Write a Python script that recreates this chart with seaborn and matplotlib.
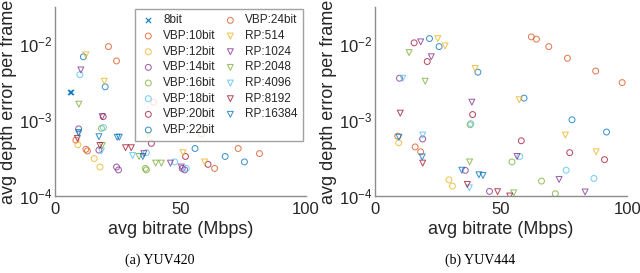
import pandas as pd
import numpy as np
import matplotlib
matplotlib.use("Agg")
import matplotlib.pyplot as plt
import seaborn as sns
from matplotlib.ticker import LogLocator, NullFormatter, FixedLocator

# series in legend order
series = ['8bit', 'VBP:10bit', 'VBP:12bit', 'VBP:14bit', 'VBP:16bit', 'VBP:18bit',
          'VBP:20bit', 'VBP:22bit', 'VBP:24bit', 'RP:514', 'RP:1024', 'RP:2048',
          'RP:4096', 'RP:8192', 'RP:16384']

# MATLAB default color order, cycling
matlab_colors = ['#0072BD', '#D95319', '#EDB120', '#7E2F8E', '#77AC30', '#4DBEEE', '#A2142F']

# YUV420 panel: bitrate (Mbps) and avg depth error per frame
yuv420_x = {
    '8bit': [5.8, 6.2],
    'VBP:10bit': [8.3, 12.3, 12.9, 63.6],
    'VBP:12bit': [9.1, 15.6, 17.9],
    'VBP:14bit': [9.4, 17.5, 24.5, 25.3, 50.7, 51.7],
    'VBP:16bit': [18.5, 36.0, 36.4],
    'VBP:18bit': [9.9, 19.3, 36.4, 47.7, 52.3],
    'VBP:20bit': [19.2, 38.4, 52.0, 61.0],
    'VBP:22bit': [11.3, 20.0, 55.8, 67.8, 75.5],
    'VBP:24bit': [21.3, 24.5, 39.3, 58.4, 73.0, 81.5],
    'RP:514': [12.3, 19.6, 37.2, 51.0, 59.6],
    'RP:1024': [10.3, 18.8, 35.4, 46.0, 50.3],
    'RP:2048': [9.5, 18.8, 33.5, 40.1, 42.4],
    'RP:4096': [9.4, 18.5, 30.9],
    'RP:8192': [8.9, 17.9, 28.1, 30.4],
    'RP:16384': [9.4, 17.5, 24.8, 25.6, 35.0],
}
yuv420_y = {
    '8bit': [2.3e-3, 2.3e-3],
    'VBP:10bit': [5.4e-4, 4.1e-4, 3.9e-4, 2.3e-4],
    'VBP:12bit': [4.7e-4, 3.1e-4, 2.4e-4],
    'VBP:14bit': [7.6e-4, 4.0e-4, 2.4e-4, 2.2e-4, 2.3e-4, 2.2e-4],
    'VBP:16bit': [7.7e-4, 2.3e-4, 2.2e-4],
    'VBP:18bit': [3.9e-3, 7.9e-4, 3.7e-4, 2.8e-4, 2.3e-4],
    'VBP:20bit': [1.1e-3, 4.9e-4, 3.3e-4, 2.6e-4],
    'VBP:22bit': [6.7e-3, 2.7e-3, 4.2e-4, 3.3e-4, 2.8e-4],
    'VBP:24bit': [9.1e-3, 5.9e-3, 1.7e-3, 6.5e-4, 4.2e-4, 3.6e-4],
    'RP:514': [7.1e-3, 3.2e-3, 6.3e-4, 3.7e-4, 2.8e-4],
    'RP:1024': [4.5e-3, 1.1e-3, 3.6e-4, 2.7e-4, 2.4e-4],
    'RP:2048': [1.6e-3, 4.6e-4, 3.3e-4, 2.7e-4, 2.7e-4],
    'RP:4096': [6.6e-4, 3.9e-4, 3.4e-4],
    'RP:8192': [5.7e-4, 4.6e-4, 4.3e-4, 4.3e-4],
    'RP:16384': [6.8e-4, 6.0e-4, 5.9e-4, 5.9e-4, 3.3e-4],
}

# YUV444 panel
yuv444_x = {
    '8bit': [],
    'VBP:10bit': [9.0, 15.9, 18.1],
    'VBP:12bit': [9.4, 29.3, 30.7],
    'VBP:14bit': [9.7, 18.9, 35.8, 45.4],
    'VBP:16bit': [37.7, 54.3, 66.0, 71.5],
    'VBP:18bit': [38.0, 57.4, 75.8, 86.8],
    'VBP:20bit': [15.5, 20.7, 38.7, 58.0, 77.2, 91.0],
    'VBP:22bit': [21.6, 25.4, 40.8, 59.1, 78.1, 91.8],
    'VBP:24bit': [62.0, 64.0, 68.9, 76.3, 87.5, 98.0],
    'RP:514': [24.9, 27.8, 39.7, 57.2, 75.5, 87.7],
    'RP:1024': [18.1, 22.3, 38.4, 56.3, 73.0, 83.3],
    'RP:2048': [13.5, 19.9, 37.5, 55.0],
    'RP:4096': [11.0, 18.9, 37.4],
    'RP:8192': [10.0, 18.9, 36.6, 48.6, 53.4],
    'RP:16384': [9.5, 18.7, 34.4, 41.2, 42.8],
}
yuv444_y = {
    '8bit': [],
    'VBP:10bit': [6.1e-4, 4.4e-4, 3.8e-4],
    'VBP:12bit': [5.0e-4, 1.63e-4, 1.35e-4],
    'VBP:14bit': [3.5e-3, 5.6e-4, 2.17e-4, 1.15e-4],
    'VBP:16bit': [8.6e-4, 2.8e-4, 1.57e-4, 1.07e-4],
    'VBP:18bit': [8.9e-4, 3.3e-4, 2.18e-4, 1.7e-4],
    'VBP:20bit': [1.02e-2, 5.8e-3, 1.17e-3, 5.3e-4, 3.7e-4, 3.0e-4],
    'VBP:22bit': [1.16e-2, 9.1e-3, 4.2e-3, 1.92e-3, 1.0e-3, 6.9e-4],
    'VBP:24bit': [1.22e-2, 1.14e-2, 9.1e-3, 6.4e-3, 4.35e-3, 3.07e-3],
    'RP:514': [1.16e-2, 9.3e-3, 4.7e-3, 1.83e-3, 6.3e-4, 3.8e-4],
    'RP:1024': [1.05e-2, 6.7e-3, 1.7e-3, 3.3e-4, 1.65e-4, 1.13e-4],
    'RP:2048': [7.6e-3, 3.2e-3, 2.8e-4, 1.1e-4],
    'RP:4096': [3.5e-3, 6.3e-4, 1.28e-4],
    'RP:8192': [1.22e-3, 2.7e-4, 1.42e-4, 1.14e-4, 1.0e-4],
    'RP:16384': [5.9e-4, 3.26e-4, 2.18e-4, 1.9e-4, 1.86e-4],
}

captions = ['(a) YUV420', '(b) YUV444']

sns.set_style('white')
plt.rcParams['font.family'] = ['Liberation Sans', 'DejaVu Sans']
plt.rcParams['mathtext.fontset'] = 'custom'
plt.rcParams['mathtext.rm'] = 'Liberation Sans'
plt.rcParams['mathtext.it'] = 'Liberation Sans:italic'
plt.rcParams['mathtext.bf'] = 'Liberation Sans:bold'
plt.rcParams['xtick.direction'] = 'in'
plt.rcParams['ytick.direction'] = 'in'

fig = plt.figure(figsize=(6.4, 2.73), dpi=100)
ax1 = fig.add_axes([0.086, 0.282, 0.392, 0.692])
ax2 = fig.add_axes([0.586, 0.282, 0.394, 0.692])

spine_col = '#8c8c8c'
text_col = '#262626'

for k, (ax, xs, ys) in enumerate([(ax1, yuv420_x, yuv420_y), (ax2, yuv444_x, yuv444_y)]):
    for i, name in enumerate(series):
        col = matlab_colors[i % 7]
        df = pd.DataFrame({'bitrate': xs[name], 'err': ys[name]})
        if name == '8bit':
            sns.scatterplot(data=df, x='bitrate', y='err', ax=ax, marker='x',
                            color=col, s=14, linewidth=0.9, label=name, alpha=0.85)
        else:
            mk = 'o' if name.startswith('VBP') else 'v'
            sns.scatterplot(data=df, x='bitrate', y='err', ax=ax, marker=mk,
                            color=col, facecolor='none', edgecolor=col, s=18,
                            linewidth=0.75, label=name, alpha=0.75)
    ax.set_yscale('log')
    ax.set_xlim(0, 100)
    ax.set_ylim(1e-4, 3e-2)
    ax.xaxis.set_major_locator(FixedLocator([0, 50, 100]))
    ax.yaxis.set_major_locator(FixedLocator([1e-4, 1e-3, 1e-2]))
    ax.set_yticklabels(['10$^{-4}$', '10$^{-3}$', '10$^{-2}$'])
    ax.yaxis.set_minor_locator(LogLocator(base=10, subs=np.arange(2, 10)))
    ax.yaxis.set_minor_formatter(NullFormatter())
    ax.tick_params(axis='both', which='major', labelsize=12, length=3.5,
                   color=spine_col, labelcolor=text_col, pad=4)
    ax.tick_params(axis='y', which='minor', length=2, color=spine_col)
    ax.tick_params(axis='y', which='major', pad=2)
    for side in ['top', 'right']:
        ax.spines[side].set_visible(False)
    for side in ['left', 'bottom']:
        ax.spines[side].set_color(spine_col)
        ax.spines[side].set_linewidth(1.0)
    ax.set_xlabel('avg bitrate (Mbps)', fontsize=13, color=text_col, labelpad=3)
    ax.set_ylabel('avg depth error per frame', fontsize=13, color=text_col, labelpad=1)
    # caption centred on each half of the figure
    fig.text(0.25 + 0.5 * k, 0.045, captions[k], ha='center', va='center',
             fontsize=10, family=['Liberation Serif', 'DejaVu Serif'], color='black')

ax2.get_legend().remove()
leg = ax1.legend(ncol=2, loc='upper right', bbox_to_anchor=(0.988, 0.989),
                 borderaxespad=0, fontsize=8.5, frameon=True, fancybox=False,
                 edgecolor=spine_col, handletextpad=0.6, columnspacing=0.6,
                 labelspacing=0.31, borderpad=0.45, handlelength=1.3, markerscale=1.0)
leg.get_frame().set_linewidth(1.0)
for t in leg.get_texts():
    t.set_color(text_col)

fig.savefig('out.png', dpi=100)
